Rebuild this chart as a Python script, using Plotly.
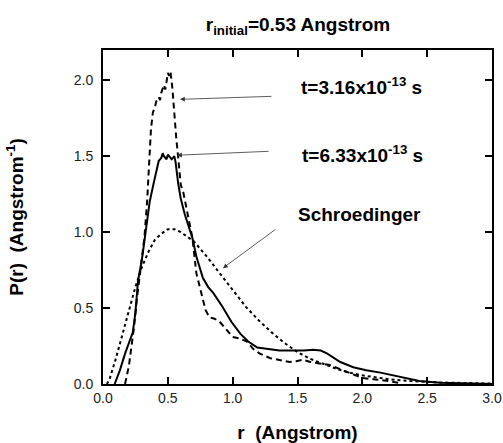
import plotly.graph_objects as go

# Schroedinger (dotted)
r_s = [0.03, 0.05, 0.1, 0.15, 0.2, 0.25, 0.3, 0.35, 0.4, 0.45, 0.5, 0.55, 0.6, 0.7, 0.8, 0.9,
       1.0, 1.1, 1.2, 1.3, 1.4, 1.5, 1.6, 1.7, 1.8, 1.9, 2.0, 2.2, 2.4, 2.6, 2.8, 3.0]
p_s = [0.0, 0.03, 0.17, 0.33, 0.49, 0.64, 0.77, 0.87, 0.95, 0.99, 1.02, 1.02, 1.00, 0.94, 0.84, 0.73,
       0.62, 0.51, 0.42, 0.34, 0.27, 0.21, 0.165, 0.13, 0.10, 0.075, 0.057, 0.032, 0.018, 0.01, 0.005, 0.003]

# t = 3.16e-13 s (dashed)
r_a = [0.17, 0.20, 0.22, 0.24, 0.26, 0.285, 0.32, 0.34, 0.355, 0.37, 0.385, 0.40, 0.41, 0.43, 0.44,
       0.45, 0.47, 0.48, 0.49, 0.50, 0.51, 0.52, 0.535, 0.55, 0.565, 0.58, 0.60, 0.62, 0.66, 0.69,
       0.72, 0.75, 0.77, 0.79, 0.82, 0.86, 0.90, 0.95, 1.00, 1.05, 1.11, 1.16, 1.21, 1.29, 1.36,
       1.44, 1.49, 1.54, 1.60, 1.65, 1.75, 1.85, 1.96, 2.00, 2.10, 2.20, 2.30]
p_a = [0.0, 0.12, 0.25, 0.38, 0.55, 0.72, 0.97, 1.20, 1.45, 1.68, 1.79, 1.82, 1.86, 1.89, 1.87,
       1.92, 1.97, 1.94, 1.99, 2.05, 2.03, 2.06, 1.95, 1.75, 1.62, 1.49, 1.31, 1.26, 1.10, 0.96,
       0.73, 0.62, 0.55, 0.49, 0.44, 0.43, 0.41, 0.36, 0.31, 0.30, 0.28, 0.23, 0.20, 0.17, 0.16,
       0.145, 0.15, 0.16, 0.145, 0.14, 0.125, 0.09, 0.05, 0.04, 0.03, 0.02, 0.005]

# t = 6.33e-13 s (solid)
r_b = [0.09, 0.13, 0.17, 0.21, 0.23, 0.25, 0.27, 0.30, 0.33, 0.36, 0.39, 0.41, 0.43, 0.45, 0.46,
       0.47, 0.49, 0.50, 0.52, 0.53, 0.55, 0.56, 0.58, 0.60, 0.63, 0.66, 0.69, 0.72, 0.77, 0.81,
       0.85, 0.92, 0.99, 1.06, 1.12, 1.19, 1.27, 1.36, 1.45, 1.55, 1.62, 1.68, 1.73, 1.78, 1.83,
       1.93, 2.03, 2.14, 2.29, 2.44, 2.6, 2.8, 3.0]
p_b = [0.0, 0.09, 0.20, 0.29, 0.34, 0.47, 0.68, 0.82, 1.02, 1.20, 1.32, 1.40, 1.47, 1.49, 1.52,
       1.50, 1.48, 1.51, 1.49, 1.48, 1.50, 1.46, 1.32, 1.22, 1.12, 1.04, 0.96, 0.84, 0.70, 0.64,
       0.60, 0.51, 0.41, 0.33, 0.28, 0.24, 0.23, 0.22, 0.22, 0.22, 0.225, 0.22, 0.20, 0.17, 0.145,
       0.11, 0.09, 0.075, 0.05, 0.02, 0.008, 0.003, 0.0]

x_ticks = [0.0, 0.5, 1.0, 1.5, 2.0, 2.5, 3.0]
y_ticks = [0.0, 0.5, 1.0, 1.5, 2.0]

FONT = "Liberation Sans, Arial, sans-serif"

W, H = 503, 443
L, R, T, B = 103, 11, 50, 59

fig = go.Figure()
fig.add_trace(go.Scatter(x=r_s, y=p_s, mode="lines",
                         line=dict(color="black", width=2, dash="dot"), showlegend=False))
fig.add_trace(go.Scatter(x=r_a, y=p_a, mode="lines",
                         line=dict(color="black", width=2, dash="6px,4px"), showlegend=False))
fig.add_trace(go.Scatter(x=r_b, y=p_b, mode="lines",
                         line=dict(color="black", width=2), showlegend=False))

axis_common = dict(showline=True, linewidth=2, linecolor="black", mirror="ticks",
                   ticks="inside", ticklen=7, tickwidth=2, tickcolor="black",
                   showgrid=False, zeroline=False, tickformat=".1f", automargin=False,
                   tickfont=dict(family=FONT, size=14, color="#222"))

fig.update_xaxes(range=[0, 3.0], tickvals=x_ticks, **axis_common,
                 title=dict(text="<b>r  (Angstrom)</b>", font=dict(family=FONT, size=19, color="black"),
                            standoff=21))
fig.update_yaxes(range=[0, 2.2], tickvals=y_ticks, ticklabelstandoff=5, **axis_common,
                 title=dict(text="<b>P(r)  (Angstrom<sup>-1</sup>)</b>",
                            font=dict(family=FONT, size=19, color="black"), standoff=45))

ann_font = dict(family=FONT, size=19, color="black")
arrow_style = dict(xref="x", yref="y", axref="x", ayref="y", showarrow=True, arrowhead=2,
                   arrowsize=1.2, arrowwidth=0.8, arrowcolor="#333", text="")
annotations = [
    dict(x=0.594, y=1.875, ax=1.31, ay=1.895, **arrow_style),
    dict(x=0.571, y=1.507, ax=1.288, ay=1.533, **arrow_style),
    dict(x=0.925, y=0.763, ax=1.342, ay=1.026, **arrow_style),
]
# text labels placed at page-pixel positions (centre)
labels = [
    ("<b>t=3.16x10<sup>-13</sup> s</b>", 361, 72),
    ("<b>t=6.33x10<sup>-13</sup> s</b>", 362, 140),
    ("<b>Schroedinger</b>", 359, 214),
]
pw, ph = W - L - R, H - T - B
for text, px, py in labels:
    annotations.append(dict(x=(px - L) / pw, y=1 - (py - T) / ph,
                            xref="paper", yref="paper", text=text, showarrow=False,
                            font=ann_font))

fig.update_layout(
    width=W, height=H,
    margin=dict(l=L, r=R, t=T, b=B),
    plot_bgcolor="white", paper_bgcolor="white",
    title=dict(text="<b>r<sub>initial</sub>=0.53 Angstrom</b>", x=298 / W, xanchor="center",
               y=1 - 24 / H, yanchor="middle", font=dict(family=FONT, size=19, color="black")),
    annotations=annotations,
)

fig.write_html("out.html", config={"displayModeBar": False},
               post_script="document.body.style.margin='0';document.body.style.overflow='hidden';")
